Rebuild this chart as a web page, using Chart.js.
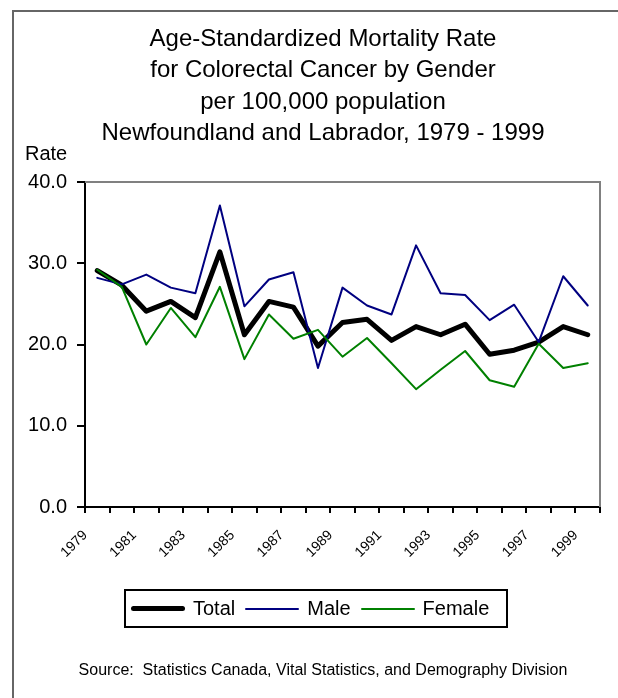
<!DOCTYPE html>
<html>
<head>
<meta charset="utf-8">
<script src="https://cdn.jsdelivr.net/npm/chart.js@4.4.1/dist/chart.umd.min.js"></script>
<style>
    html, body { margin: 0; padding: 0; background: #fff; overflow: hidden; }
    body { width: 618px; height: 698px; position: relative; font-family: "Liberation Sans", Arial, sans-serif; color: #000; }
    #frame { position: absolute; left: 12px; top: 10px; right: -5px; bottom: -5px; border-left: 2px solid #666; border-top: 2px solid #666; pointer-events: none; }
    #chartBox { position: absolute; left: 0; top: 0; width: 618px; height: 698px; }
    #title { position: absolute; left: 28px; width: 590px; top: 22px; text-align: center; font-size: 24px; line-height: 31.3px; }
    #rateLabel { position: absolute; left: 25px; top: 142px; font-size: 20px; line-height: 22px; }
    #legend { position: absolute; left: 124px; top: 589px; width: 380px; height: 35px; border: 2px solid #000; display: flex; align-items: center; font-size: 20px; }
    .item { display: flex; align-items: center; margin-left: 5px; }
    .item .swatch { width: 54px; margin-right: 8px; border-radius: 3px; }
    .item span { margin-right: 5px; }
    #source { position: absolute; left: 28px; width: 590px; top: 661px; text-align: center; font-size: 16px; }
</style>
</head>
<body>
<div id="chartBox"><canvas id="mortalityChart" width="618" height="698"></canvas></div>
<div id="frame"></div>
<div id="title">Age-Standardized Mortality Rate<br>for Colorectal Cancer by Gender<br>per 100,000 population<br>Newfoundland and Labrador, 1979 - 1999</div>
<div id="rateLabel">Rate</div>
<div id="legend"></div>
<div id="source">Source:&nbsp; Statistics Canada, Vital Statistics, and Demography Division</div>

<script>
// Years on the x axis (only every other one is labelled)
const years = ['1979', '1980', '1981', '1982', '1983', '1984', '1985', '1986', '1987', '1988',
    '1989', '1990', '1991', '1992', '1993', '1994', '1995', '1996', '1997', '1998', '1999'];

// Rates per 100,000
const totalRates = [29.1, 27.3, 24.1, 25.3, 23.3, 31.4, 21.2, 25.3, 24.6, 19.8,
    22.7, 23.1, 20.5, 22.2, 21.2, 22.5, 18.8, 19.3, 20.3, 22.2, 21.2];
const maleRates = [28.2, 27.4, 28.6, 27.0, 26.3, 37.1, 24.7, 28.0, 28.9, 17.1,
    27.0, 24.8, 23.7, 32.2, 26.3, 26.1, 23.0, 24.9, 20.3, 28.4, 24.8];
const femaleRates = [29.2, 27.1, 20.0, 24.5, 20.9, 27.1, 18.2, 23.7, 20.7, 21.8,
    18.5, 20.8, 17.7, 14.5, 16.9, 19.2, 15.6, 14.8, 20.1, 17.1, 17.7];

// Y axis ticks
const yTicks = [0, 10, 20, 30, 40];

// gray top/right border of the plot area
const plotFrame = {
    id: 'plotFrame',
    afterDatasetsDraw(chart) {
        const a = chart.chartArea;
        const ctx = chart.ctx;
        ctx.save();
        ctx.strokeStyle = '#808080';
        ctx.lineWidth = 2;
        ctx.beginPath();
        ctx.moveTo(a.left, a.top);
        ctx.lineTo(a.right, a.top);
        ctx.lineTo(a.right, a.bottom);
        ctx.stroke();
        ctx.restore();
    }
};

const ctx = document.getElementById('mortalityChart').getContext('2d');
const mortalityChart = new Chart(ctx, {
    type: 'line',
    data: {
        labels: years,
        datasets: [
            { label: 'Total', data: totalRates, borderColor: '#000000', borderWidth: 5, order: 3 },
            { label: 'Male', data: maleRates, borderColor: '#000080', borderWidth: 2, order: 2 },
            { label: 'Female', data: femaleRates, borderColor: '#008000', borderWidth: 2, order: 1 }
        ]
    },
    options: {
        responsive: false,
        animation: false,
        layout: { padding: { left: 0, right: 18, top: 182, bottom: 141 } },
        elements: {
            point: { radius: 0 },
            line: { tension: 0, fill: false, borderCapStyle: 'round', borderJoinStyle: 'round' }
        },
        plugins: {
            legend: { display: false },
            title: { display: false },
            tooltip: { enabled: false }
        },
        scales: {
            y: {
                min: yTicks[0],
                max: yTicks[yTicks.length - 1],
                afterBuildTicks: function (scale) {
                    scale.ticks = yTicks.map(v => ({ value: v }));
                },
                afterFit: function (scale) { scale.width = 85; },
                ticks: {
                    padding: 10,
                    color: '#000',
                    font: { family: 'Liberation Sans', size: 20 },
                    callback: v => v.toFixed(1)
                },
                grid: { drawOnChartArea: false, drawTicks: true, tickLength: 8, color: '#000', lineWidth: 2 },
                border: { color: '#000', width: 2 }
            },
            x: {
                offset: true,
                afterFit: function (scale) { scale.height = 50; },
                ticks: {
                    autoSkip: false,
                    maxRotation: 45,
                    minRotation: 45,
                    padding: 14,
                    labelOffset: -12,
                    color: '#000',
                    font: { family: 'Liberation Sans', size: 14 },
                    callback: function (value, index) {
                        return index % 2 === 0 ? years[index] : '';
                    }
                },
                grid: { offset: true, drawOnChartArea: false, drawTicks: true, tickLength: 6, color: '#000', lineWidth: 2 },
                border: { color: '#000', width: 2 }
            }
        }
    },
    plugins: [plotFrame]
});

// legend built from the chart's datasets
const legendBox = document.getElementById('legend');
mortalityChart.data.datasets.forEach(function (ds) {
    const item = document.createElement('div');
    item.className = 'item';
    const swatch = document.createElement('div');
    swatch.className = 'swatch';
    swatch.style.height = ds.borderWidth + 'px';
    swatch.style.background = ds.borderColor;
    const text = document.createElement('span');
    text.textContent = ds.label;
    item.appendChild(swatch);
    item.appendChild(text);
    legendBox.appendChild(item);
});
</script>
</body>
</html>
